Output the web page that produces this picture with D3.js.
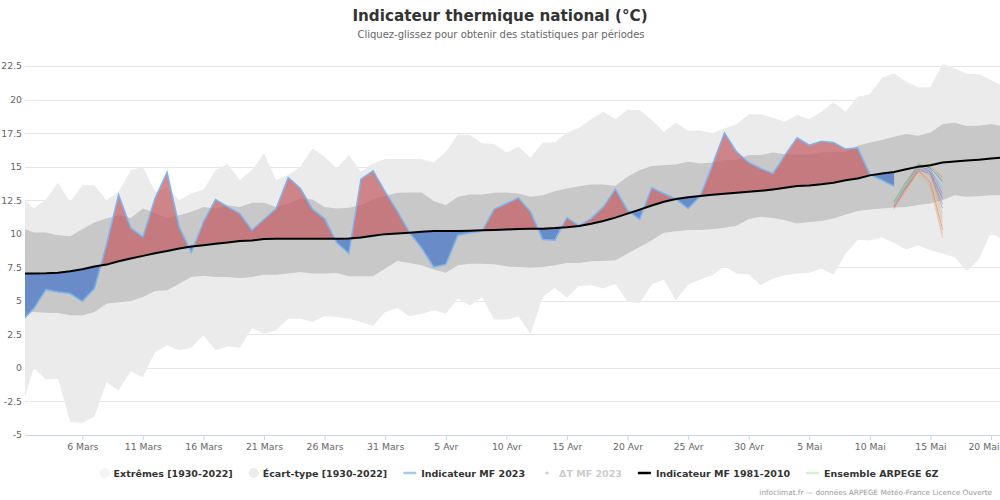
<!DOCTYPE html>
<html><head><meta charset="utf-8">
<script src="https://cdn.jsdelivr.net/npm/d3@7"></script>
<style>body{margin:0;background:#fff} svg{display:block;font-family:"DejaVu Sans",sans-serif}</style>
</head><body><svg id="c" width="1000" height="500"></svg>
<script>
// day index 0 = 1 mars 2023
const extremesMax = [12.7,11.88,12.57,13.8,12.37,13.62,13.62,12.5,13.12,14.74,14.99,13.12,13.42,12.5,13.0,13.3,14.74,15.19,14.0,14.74,15.98,13.99,14.37,14.99,16.36,15.73,14.86,15.86,14.61,15.24,15.56,15.56,15.56,15.56,15.31,16.1,17.4,17.35,16.75,16.68,16.06,16.48,15.66,16.8,16.8,17.55,17.9,18.54,19.09,18.54,19.22,19.22,18.47,17.6,18.27,17.65,17.7,17.48,17.85,18.15,18.9,18.9,18.64,18.34,18.84,18.54,19.09,19.79,19.09,20.21,20.39,21.63,21.96,21.33,20.91,20.91,22.65,22.33,21.9,21.9,21.46,21.0];
const extremesMin = [-2.9,0.01,-0.88,-0.8,-4.04,-4.1,-3.62,-1.06,-1.68,-0.24,-0.69,1.18,1.68,1.31,1.5,2.43,1.31,1.6,1.5,2.97,2.55,2.8,3.67,3.67,3.42,3.87,3.8,3.67,3.42,3.12,4.17,4.47,3.85,4.04,4.29,4.04,5.16,4.66,5.24,3.6,3.6,3.84,2.55,5.29,5.96,5.24,6.11,6.16,5.91,6.28,4.91,4.84,6.21,6.58,5.04,6.21,6.58,6.9,7.57,7.03,6.98,6.16,6.66,6.9,7.03,7.1,7.4,6.95,8.5,9.55,9.5,9.72,9.3,8.82,9.14,8.77,8.52,8.27,7.22,8.1,10.1,9.5];
const ecartMax = [10.45,10.09,10.09,9.89,9.81,10.34,10.83,11.13,11.38,11.18,11.88,11.55,11.18,11.38,11.63,12.0,11.88,12.13,12.0,12.3,12.3,12.0,12.25,12.62,12.55,12.0,11.88,11.93,12.13,12.57,12.82,13.05,13.07,13.07,12.43,12.13,12.75,12.93,12.93,13.05,13.07,13.0,12.75,12.87,13.17,13.37,13.54,13.67,13.67,13.57,14.24,14.74,15.04,15.1,15.16,15.36,15.24,15.31,15.49,15.49,15.86,15.86,16.06,15.93,15.9,15.9,16.06,16.1,16.1,16.55,16.8,16.98,17.23,17.43,17.3,17.55,18.15,18.27,18.02,18.05,18.17,18.0];
const ecartMin = [4.23,4.17,4.12,4.1,3.92,3.9,4.17,4.79,4.89,4.99,5.29,5.73,5.78,6.28,6.78,6.86,6.78,6.78,6.7,6.78,6.95,6.95,7.03,7.15,7.03,7.03,7.08,6.83,6.83,6.83,7.4,7.97,7.82,7.65,7.33,7.1,7.65,7.77,7.77,7.72,7.57,7.52,7.47,7.52,7.65,7.82,7.82,7.95,7.97,8.02,8.52,9.02,9.52,10.07,10.19,10.27,10.27,10.34,10.44,10.6,11.1,11.26,11.18,11.01,10.76,10.88,10.95,11.13,11.43,11.7,11.8,11.88,11.95,12.0,12.15,12.25,12.5,12.87,12.75,12.8,12.87,12.87];
const normale = [7.03,7.03,7.05,7.1,7.2,7.35,7.55,7.7,7.95,8.15,8.35,8.55,8.72,8.9,9.05,9.15,9.25,9.35,9.45,9.5,9.6,9.62,9.63,9.63,9.63,9.63,9.63,9.65,9.72,9.85,9.97,10.02,10.08,10.15,10.2,10.2,10.2,10.22,10.25,10.28,10.32,10.35,10.37,10.38,10.42,10.48,10.58,10.75,10.95,11.2,11.5,11.8,12.1,12.38,12.58,12.72,12.82,12.9,12.98,13.05,13.12,13.2,13.3,13.42,13.55,13.6,13.68,13.8,13.98,14.12,14.35,14.48,14.6,14.8,15.0,15.1,15.3,15.38,15.45,15.52,15.6,15.68];
const mf2023 = [3.5,4.42,5.83,5.66,5.54,4.96,5.91,9.2,12.9,10.43,9.76,12.62,14.57,10.51,8.6,10.88,12.55,12.0,11.5,10.26,11.08,11.88,14.19,13.37,11.83,11.13,9.34,8.52,14.07,14.69,13.12,11.68,10.1,8.94,7.52,7.7,9.89,10.06,10.2,11.83,12.25,12.67,11.63,9.57,9.52,11.21,10.59,11.13,12.0,13.32,11.75,11.08,13.42,13.0,12.57,11.88,12.8,15.1,17.52,16.1,15.31,14.86,14.49,15.86,17.15,16.6,16.9,16.8,16.31,16.4,14.42,13.99,13.54];
const ensembleStart = 72;
const ensemble = [
 [11.9,13.5,14.9,15.3,14.4],[12.1,13.7,15.1,15.0,14.2],[12.3,13.8,15.2,14.9,13.9],
 [12.0,13.4,14.8,14.7,13.4],[12.2,13.6,15.0,14.8,13.0],[12.4,13.9,15.1,14.6,12.6],
 [11.9,13.3,14.7,14.5,12.2],[12.1,13.5,14.9,14.4,11.9],[12.0,13.6,15.0,14.3,11.5],
 [12.3,13.7,14.8,14.2,11.2],[12.2,13.2,14.6,14.1,10.9],[11.8,13.1,14.5,14.0,10.6],
 [12.0,13.4,14.7,13.8,10.3],[12.1,13.3,14.4,13.6,10.0],[11.9,13.2,14.6,13.5,9.7],
 [12.2,13.8,15.2,15.0,13.6],[12.4,13.9,15.3,15.1,14.0],[12.0,13.5,14.8,14.6,12.8]
];
const ensembleColors = ["#e4d354","#888888","#666666","#7cb5ec","#8085e9","#2b908f","#f15c80","#5b8fd8","#f7a35c","#90ed7d","#f7a0c0","#f7c08c","#f45b5b","#90ed7d","#f8a0a0","#91e8e1","#c8c890","#b090e0"];
const yTicks = [-5,-2.5,0,2.5,5,7.5,10,12.5,15,17.5,20,22.5];
const xTickDays = [5,10,15,20,25,30,35,40,45,50,55,60,65,70,75,80];
const xTickLabels = ["6 Mars","11 Mars","16 Mars","21 Mars","26 Mars","31 Mars","5 Avr","10 Avr","15 Avr","20 Avr","25 Avr","30 Avr","5 Mai","10 Mai","15 Mai","20 Mai"];
const legendItems = [
 {label:"Extrêmes [1930-2022]", type:"circle", color:"#f4f4f4", text:"#333"},
 {label:"Écart-type [1930-2022]", type:"circle", color:"#ececec", text:"#333"},
 {label:"Indicateur MF 2023", type:"line", color:"#a9c9ec", text:"#333"},
 {label:"ΔT MF 2023", type:"dot", color:"#cccccc", text:"#cccccc"},
 {label:"Indicateur MF 1981-2010", type:"line", color:"#000000", text:"#333"},
 {label:"Ensemble ARPEGE 6Z", type:"line", color:"#d6f0cf", text:"#333"}
];

const svg = d3.select("#c");
const L = 25, R = 1000, T = 40, B = 435;
const x = d3.scaleLinear().domain([0, 80]).range([21.7, 991.0]);
const y = d3.scaleLinear().domain([-5, 22.5]).range([435, 66]);

// title
svg.append("text").attr("x",500).attr("y",21).attr("text-anchor","middle")
  .attr("font-size",15.2).attr("font-weight","bold").attr("fill","#333")
  .text("Indicateur thermique national (°C)");
svg.append("text").attr("x",501).attr("y",38).attr("text-anchor","middle")
  .attr("font-size",10).attr("fill","#666")
  .text("Cliquez-glissez pour obtenir des statistiques par périodes");

// grid
const grid = svg.append("g");
yTicks.forEach(v => {
  if (v === -5) return;
  grid.append("line").attr("x1",L).attr("x2",R).attr("y1",Math.round(y(v))+0.5).attr("y2",Math.round(y(v))+0.5)
    .attr("stroke","#e6e6e6").attr("stroke-width",1);
});
const yAxis = d3.axisLeft(y).tickValues(yTicks).tickSize(0).tickPadding(0).tickFormat(d => String(d));
const ya = svg.append("g").attr("transform",`translate(22,0)`).call(yAxis);
ya.select(".domain").remove();
ya.selectAll("text").attr("font-size",9.3).attr("fill","#666").attr("font-family","DejaVu Sans");

// clip
const defs = svg.append("defs");
defs.append("clipPath").attr("id","plot").append("rect").attr("x",L).attr("y",T).attr("width",R-L).attr("height",B-T);

const idx = extremesMax.map((_, i) => i);
const plot = svg.append("g").attr("clip-path","url(#plot)");

plot.append("path").datum(idx)
  .attr("d", d3.area().x(i => x(i)).y0(i => y(extremesMin[i])).y1(i => y(extremesMax[i])))
  .attr("fill","#ebebeb");
plot.append("path").datum(idx)
  .attr("d", d3.area().x(i => x(i)).y0(i => y(ecartMin[i])).y1(i => y(ecartMax[i])))
  .attr("fill","#c8c8c8");

// anomaly fills
const mIdx = mf2023.map((_, i) => i);
defs.append("clipPath").attr("id","above").append("path")
  .attr("d", d3.area().x(i => x(i)).y0(i => y(normale[i])).y1(0)(idx));
defs.append("clipPath").attr("id","below").append("path")
  .attr("d", d3.area().x(i => x(i)).y0(i => y(normale[i])).y1(500)(idx));
const between = d3.area().x(i => x(i)).y0(i => y(normale[i])).y1(i => y(mf2023[i]));
plot.append("g").attr("clip-path","url(#above)").append("path").datum(mIdx)
  .attr("d", between).attr("fill","#c45c62").attr("fill-opacity",0.72);
plot.append("g").attr("clip-path","url(#below)").append("path").datum(mIdx)
  .attr("d", between).attr("fill","#4a78c8").attr("fill-opacity",0.75);

plot.append("path").datum(mIdx)
  .attr("d", d3.line().x(i => x(i)).y(i => y(mf2023[i])))
  .attr("fill","none").attr("stroke","#7cb5ec").attr("stroke-width",1.5);

// ensemble
ensemble.forEach((m, k) => {
  plot.append("path").datum(m)
    .attr("d", d3.line().x((v, j) => x(ensembleStart + j)).y(v => y(v)))
    .attr("fill","none").attr("stroke",ensembleColors[k]).attr("stroke-width",1).attr("stroke-opacity",0.55);
});

// normale
plot.append("path").datum(idx)
  .attr("d", d3.line().x(i => x(i)).y(i => y(normale[i])))
  .attr("fill","none").attr("stroke","#000").attr("stroke-width",2);

// x axis
svg.append("line").attr("x1",L).attr("x2",R).attr("y1",435.5).attr("y2",435.5).attr("stroke","#ccd6eb");
const xAxis = d3.axisBottom(x).tickValues(xTickDays).tickSize(5).tickPadding(3)
  .tickFormat((d, i) => xTickLabels[i]);
const xa = svg.append("g").attr("transform","translate(0,435)").call(xAxis);
xa.select(".domain").remove();
xa.selectAll("line").attr("stroke","#ccd6eb");
xa.selectAll("text").attr("font-size",9.3).attr("fill","#666").attr("font-family","DejaVu Sans");
// keep last label inside the chart, as the reference does
xa.selectAll(".tick").filter((d, i, n) => i === n.length - 1).select("text")
  .attr("text-anchor","end").attr("x", 999 - x(xTickDays[xTickDays.length - 1]));

// legend
const lg = svg.append("g");
let lx = 0;
legendItems.forEach(it => {
  const g = lg.append("g");
  if (it.type === "circle") {
    g.append("circle").attr("cx",5).attr("cy",0).attr("r",5).attr("fill",it.color);
  } else if (it.type === "dot") {
    g.append("circle").attr("cx",6).attr("cy",0).attr("r",1.6).attr("fill",it.color);
  } else {
    g.append("line").attr("x1",0).attr("x2",13).attr("y1",0).attr("y2",0).attr("stroke",it.color).attr("stroke-width",2.5);
  }
  const tx = it.type === "circle" ? 14 : 18;
  const t = g.append("text").attr("x",tx).attr("y",3.5).attr("font-size",9.5).attr("font-weight","bold")
    .attr("fill",it.text).text(it.label);
  const w = tx + t.node().getComputedTextLength();
  g.attr("transform",`translate(${lx},0)`);
  lx += w + 16;
});
const total = lx - 16;
lg.attr("transform",`translate(${519 - total/2},473)`);

svg.append("text").attr("x",992).attr("y",495).attr("text-anchor","end")
  .attr("font-size",7.3).attr("fill","#999")
  .text("infoclimat.fr — données ARPEGE Météo-France Licence Ouverte");
</script></body></html>
